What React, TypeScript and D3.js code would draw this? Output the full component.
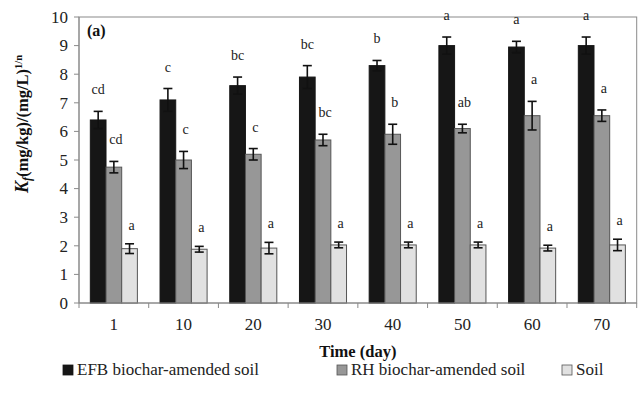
import React from 'react';
import * as d3 from 'd3';

// ── Data ──────────────────────────────────────────────────────────────────────
const DAYS = ['1', '10', '20', '30', '40', '50', '60', '70'];
const SERIES = ['EFB biochar-amended soil', 'RH biochar-amended soil', 'Soil'];

const EFB_MEAN = [6.4, 7.1, 7.6, 7.9, 8.3, 9.0, 8.95, 9.0];
const EFB_ERR = [0.3, 0.4, 0.3, 0.4, 0.18, 0.3, 0.2, 0.3];
const EFB_LETTERS = ['cd', 'c', 'bc', 'bc', 'b', 'a', 'a', 'a'];

const RH_MEAN = [4.75, 5.0, 5.2, 5.7, 5.9, 6.1, 6.55, 6.55];
const RH_ERR = [0.2, 0.3, 0.2, 0.2, 0.35, 0.15, 0.5, 0.2];
const RH_LETTERS = ['cd', 'c', 'c', 'bc', 'b', 'ab', 'a', 'a'];

const SOIL_MEAN = [1.9, 1.88, 1.92, 2.03, 2.03, 2.03, 1.92, 2.03];
const SOIL_ERR = [0.17, 0.1, 0.2, 0.1, 0.1, 0.1, 0.1, 0.2];
const SOIL_LETTERS = ['a', 'a', 'a', 'a', 'a', 'a', 'a', 'a'];

const Y_TICKS = [0, 1, 2, 3, 4, 5, 6, 7, 8, 9, 10];

const FILLS = ['#161616', '#979797', '#e1e1e1'];
const STROKES = ['#161616', '#555555', '#555555'];

// ── Layout ────────────────────────────────────────────────────────────────────
const W = 643;
const H = 400;
const M = { top: 17, right: 6.3, bottom: 97, left: 79 };
const TXT = { fontFamily: 'Liberation Serif' };

export default function App() {
  const innerW = W - M.left - M.right;
  const innerH = H - M.top - M.bottom;

  const x = d3.scaleBand().domain(DAYS).range([0, innerW]).paddingInner(0).paddingOuter(0);
  const groupW = x.bandwidth() * 0.675;
  const x1 = d3.scaleBand().domain(SERIES).range([0, groupW]);
  const y = d3.scaleLinear().domain([0, 10]).range([innerH, 0]);

  const rows = SERIES.map((s, si) => {
    const mean = [EFB_MEAN, RH_MEAN, SOIL_MEAN][si];
    const err = [EFB_ERR, RH_ERR, SOIL_ERR][si];
    const letters = [EFB_LETTERS, RH_LETTERS, SOIL_LETTERS][si];
    return DAYS.map((d, i) => ({ day: d, series: s, si, v: mean[i], e: err[i], letter: letters[i] }));
  });

  const bw = x1.bandwidth();
  const cap = 4.5;

  return (
    <svg width={W} height={H} style={{ position: 'absolute', left: 0, top: 0, background: '#fff' }}>
      <g transform={`translate(${M.left},${M.top})`}>
        {/* frame */}
        <rect x={0} y={0} width={innerW} height={innerH} fill="none" stroke="#8a8a8a" strokeWidth={1} />

        {/* bars */}
        {rows.flat().map((r, i) => {
          const bx = (x(r.day) ?? 0) + (x.bandwidth() - groupW) / 2 + (x1(r.series) ?? 0);
          const top = y(r.v);
          const cx = bx + bw / 2;
          const eTop = y(r.v + r.e);
          const eBot = y(r.v - r.e);
          return (
            <g key={i}>
              <rect x={bx} y={top} width={bw} height={innerH - top} fill={FILLS[r.si]} stroke={STROKES[r.si]} strokeWidth={1} />
              <g stroke="#111" strokeWidth={1.6}>
                <line x1={cx} x2={cx} y1={eTop} y2={eBot} />
                <line x1={cx - cap} x2={cx + cap} y1={eTop} y2={eTop} />
                <line x1={cx - cap} x2={cx + cap} y1={eBot} y2={eBot} />
              </g>
              <text style={TXT} x={cx + (r.si === 0 ? 0 : 2)} y={eTop - (r.si === 2 ? 14 : 17)} textAnchor="middle" fontSize={14} fill="#222">
                {r.letter}
              </text>
            </g>
          );
        })}

        {/* y axis */}
        <line x1={0} x2={0} y1={0} y2={innerH} stroke="#8a8a8a" />
        {Y_TICKS.map(t => (
          <g key={t} transform={`translate(0,${y(t)})`}>
            <line x1={-5} x2={0} stroke="#8a8a8a" />
            <text style={TXT} x={-11} dy="0.34em" textAnchor="end" fontSize={17} fill="#222">{t}</text>
          </g>
        ))}

        {/* x axis */}
        <line x1={0} x2={innerW} y1={innerH} y2={innerH} stroke="#8a8a8a" />
        {DAYS.map((d, i) => (
          <g key={d}>
            <line x1={x(d) ?? 0} x2={x(d) ?? 0} y1={innerH} y2={innerH + 5} stroke="#8a8a8a" />
            {i === DAYS.length - 1 && (
              <line x1={innerW} x2={innerW} y1={innerH} y2={innerH + 5} stroke="#8a8a8a" />
            )}
            <text style={TXT} x={(x(d) ?? 0) + x.bandwidth() / 2} y={innerH + 27} textAnchor="middle" fontSize={17} fill="#222">{d}</text>
          </g>
        ))}

        {/* panel label */}
        <text style={TXT} x={8} y={19} fontSize={16} fontWeight="bold" fill="#111">(a)</text>

        {/* axis titles */}
        <text style={TXT} x={innerW / 2} y={innerH + 54} textAnchor="middle" fontSize={16.5} fontWeight="bold" fill="#111">Time (day)</text>
        <text style={TXT} transform={`translate(-51,${innerH / 2 - 36}) rotate(-90)`} textAnchor="middle" fontSize={16.5} fontWeight="bold" fill="#111">
          <tspan fontStyle="italic" fontSize={18}>K</tspan>
          <tspan fontStyle="italic" fontSize={12} dy={3}>f</tspan>
          <tspan dy={-3}>(mg/kg)/(mg/L)</tspan>
          <tspan fontSize={10.5} dy={-6}>1/n</tspan>
        </text>
      </g>

      {/* legend */}
      {SERIES.map((s, i) => {
        const lx = [63, 337, 562][i];
        return (
          <g key={s} transform={`translate(${lx},${H - 29})`}>
            <rect x={0} y={-6} width={10} height={10} fill={FILLS[i]} stroke={STROKES[i]} strokeWidth={0.8} />
            <text style={TXT} x={14} y={4} fontSize={17} fill="#222">{s}</text>
          </g>
        );
      })}
    </svg>
  );
}
